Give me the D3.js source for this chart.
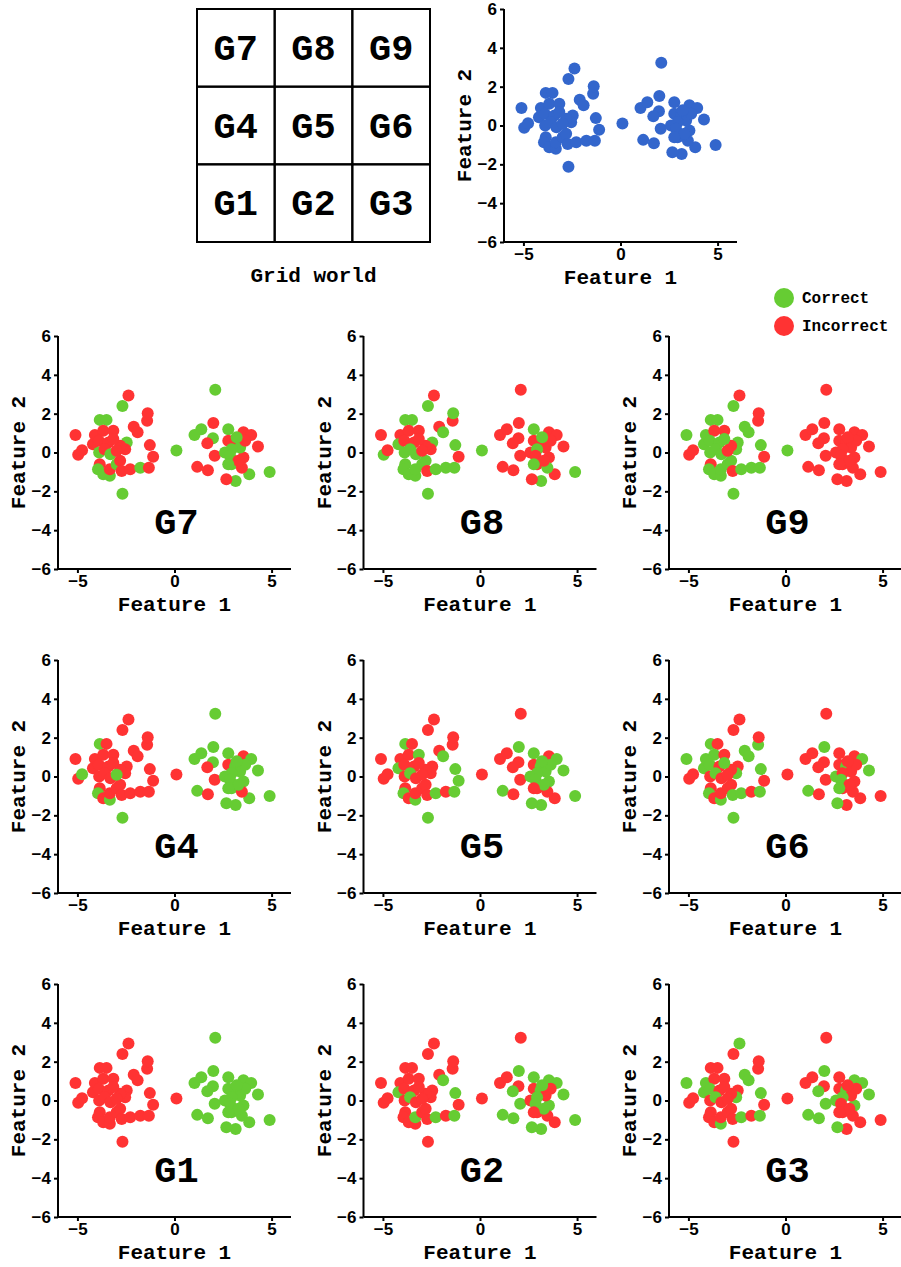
<!DOCTYPE html>
<html><head><meta charset="utf-8">
<script src="https://cdn.jsdelivr.net/npm/d3@7"></script>
<style>body{margin:0;background:#fff}svg{display:block}</style>
</head><body>
<script>
// ---- data ----
const feature1 = [-5.1,-4.96,-4.76,-4.1,-4.2,-3.85,-3.5,-3.67,-3.15,-3.9,
  -3.4,-3.88,-3.6,-3.3,-3.85,-3.94,-3.67,-3.33,-3.33,-2.98,
  -2.8,-2.72,-2.28,-1.76,-1.32,-1.1,-1.27,-1.41,-1.38,-2.37,
  -2.68,-2.1,-1.9,-2.46,-2.54,-2.8,-2.68,-3.15,-2.98,0.1,
  1.03,1.38,1.17,1.72,2.0,2.1,1.98,1.69,2.07,2.77,
  2.77,2.6,3.55,3.95,4.3,4.9,3.85,3.15,2.67,2.94,
  3.55,3.47,3.12,3.38,2.94,3.64,3.2,2.86,3.29,2.77];
const feature2 = [0.9,-0.12,0.12,0.9,0.43,1.68,1.68,1.12,1.12,0.6,
  0.52,0,0.17,-0.09,-0.6,-0.86,-1.12,-1.2,-0.86,-0.6,
  -0.43,-0.95,-0.86,-0.78,-0.78,-0.22,0.38,1.64,2.02,2.94,
  2.4,1.33,1.04,0.52,0.17,0.35,-2.12,0.7,0.09,0.1,
  0.9,1.2,-0.74,-0.92,1.52,3.23,0.73,0.47,-0.17,1.2,
  0.6,0,1.04,0.9,0.31,-1.0,-1.12,-1.47,-1.38,-0.6,
  -0.26,-0.78,0.52,0.26,0.17,0.6,0.78,-0.17,-0.43,-0.6];
// 1 = correct, 0 = incorrect, per goal
const correctG7 = [0,0,0,0,0,1,1,0,0,0, 0,1,0,1,0,1,1,1,0,1, 0,0,0,1,0,0,0,0,0,0, 1,0,0,1,0,0,1,0,0,1,
  1,1,0,0,0,1,1,0,0,1, 0,1,0,0,0,1,1,1,0,1, 0,0,0,1,1,0,1,1,0,1];
const correctG8 = [0,1,0,0,1,1,1,0,0,0, 0,1,1,1,1,1,1,1,1,1, 1,0,1,1,1,0,1,0,1,0, 1,0,1,1,0,0,1,0,0,1,
  0,0,0,0,0,0,0,0,0,1, 0,0,0,0,0,1,0,1,0,0, 0,1,0,0,1,0,1,0,0,1];
const correctG9 = [1,0,0,1,1,1,1,0,0,1, 1,1,1,1,0,1,1,1,1,1, 1,0,1,1,1,0,1,0,0,0, 1,1,1,1,1,0,1,1,0,1,
  0,0,0,0,0,0,0,0,0,0, 0,0,0,0,0,0,0,0,0,0, 0,0,0,0,0,0,0,0,0,0];
const correctG4 = [0,0,1,0,0,1,0,0,0,0, 0,0,0,0,0,1,0,1,0,0, 0,0,0,0,0,0,0,0,0,0, 0,0,0,0,0,0,1,0,1,0,
  1,1,1,0,1,1,1,0,0,1, 0,1,0,1,1,1,1,1,1,1, 1,0,1,1,1,1,1,1,1,1];
const correctG5 = [0,0,0,0,1,1,0,0,1,0, 0,0,1,0,0,1,0,1,0,0, 0,0,1,0,1,1,1,0,0,0, 0,0,1,0,0,0,1,0,0,0,
  0,0,1,0,1,0,0,0,0,1, 0,1,0,1,1,1,0,1,1,0, 1,0,1,1,1,1,1,1,1,0];
const correctG6 = [1,0,0,1,1,1,0,1,0,1, 0,0,1,0,0,1,0,1,0,0, 0,1,1,0,1,0,1,1,0,0, 0,1,1,0,1,0,1,1,0,0,
  0,0,1,0,1,0,0,0,0,0, 0,1,0,1,1,0,0,0,1,0, 0,0,1,0,0,0,0,1,0,1];
const correctG1 = [0,0,0,0,0,0,0,0,0,0, 0,0,0,0,0,0,0,0,0,0, 0,0,0,0,0,0,0,0,0,0, 0,0,0,0,0,0,0,0,0,0,
  1,1,1,1,1,1,1,1,1,1, 1,1,1,1,1,1,1,1,1,1, 1,1,1,1,1,1,1,1,1,1];
const correctG2 = [0,0,0,0,1,0,0,0,0,0, 0,0,1,0,0,0,0,0,1,0, 0,0,1,0,1,0,1,0,0,0, 0,0,1,0,0,0,0,0,0,0,
  0,0,1,1,1,0,0,1,1,1, 0,0,1,1,1,1,0,1,1,0, 1,0,1,0,1,0,1,1,1,0];
const correctG3 = [1,0,0,1,1,0,0,0,0,1, 0,0,1,0,0,0,0,1,0,0, 0,0,1,0,1,0,1,0,0,1, 0,1,1,0,1,0,0,0,0,0,
  0,0,1,1,1,0,0,1,1,0, 0,1,1,1,1,0,0,0,1,0, 1,0,1,0,1,0,0,0,0,0];
const gridLabels = [["G7","G8","G9"],["G4","G5","G6"],["G1","G2","G3"]];
const panelGoals = ["G7","G8","G9","G4","G5","G6","G1","G2","G3"];
const panelCorrect = {G7:correctG7,G8:correctG8,G9:correctG9,G4:correctG4,G5:correctG5,G6:correctG6,G1:correctG1,G2:correctG2,G3:correctG3};
const xTicks = [-5,0,5];
const yTicks = [-6,-4,-2,0,2,4,6];
const legendLabels = ["Correct","Incorrect"];

// ---- style ----
const BLUE = "#3366cc", GREEN = "#66cc33", RED = "#ff3333";
const MONO = "'Liberation Mono','DejaVu Sans Mono',monospace";
const SANS = "'Liberation Sans',Arial,sans-serif";
const S = 233, R = 6;

const svg = d3.select("body").append("svg").attr("width",901).attr("height",1267);

function scatter(left, top, colors, label) {
  const x = d3.scaleLinear().domain([-6,6]).range([left, left+S]);
  const y = d3.scaleLinear().domain([-6,6]).range([top+S, top]);
  const g = svg.append("g");
  const pts = feature1.map((v,i)=>({x:v,y:feature2[i],c:colors[i]}));
  g.selectAll("circle").data(pts).join("circle")
    .attr("cx",d=>x(d.x)).attr("cy",d=>y(d.y)).attr("r",R).attr("fill",d=>d.c);
  const ax = g.append("g").attr("transform",`translate(0,${top+S})`)
    .call(d3.axisBottom(x).tickValues(xTicks).tickSize(4).tickPadding(2).tickFormat(d=>d<0?"\u2212"+Math.abs(d):d));
  const ay = g.append("g").attr("transform",`translate(${left},0)`)
    .call(d3.axisLeft(y).tickValues(yTicks).tickSize(4).tickPadding(3).tickFormat(d=>d<0?"\u2212"+Math.abs(d):d));
  [ax,ay].forEach(a=>{
    a.select(".domain").attr("stroke","#000").attr("stroke-width",2).attr("d", a===ax?`M${left},0H${left+S}`:`M0,${top}V${top+S}`);
    a.selectAll(".tick line").attr("stroke","#000").attr("stroke-width",2);
    a.selectAll(".tick text").attr("fill","#000").attr("font-family",SANS).attr("font-weight","bold").attr("font-size",17);
  });
  g.append("text").attr("x",left+S/2).attr("y",top+S+42).attr("text-anchor","middle")
    .attr("font-family",MONO).attr("font-weight","bold").attr("font-size",21).text("Feature 1");
  g.append("text").attr("transform",`translate(${left-33},${top+S/2}) rotate(-90)`).attr("text-anchor","middle")
    .attr("font-family",MONO).attr("font-weight","bold").attr("font-size",21).text("Feature 2");
  if (label) {
    g.append("text").attr("x",x(0.1)).attr("y",top+198).attr("text-anchor","middle")
      .attr("font-family",MONO).attr("font-weight","bold").attr("font-size",37).text(label);
  }
}

// grid world
const gx = 197, gy = 9, cell = S/3;
const grid = svg.append("g");
gridLabels.forEach((row,r)=>row.forEach((lab,c)=>{
  grid.append("rect").attr("x",gx+c*cell).attr("y",gy+r*cell).attr("width",cell).attr("height",cell)
    .attr("fill","none").attr("stroke","#000").attr("stroke-width",2);
  grid.append("text").attr("x",gx+c*cell+cell/2).attr("y",gy+r*cell+cell/2+12).attr("text-anchor","middle")
    .attr("font-family",MONO).attr("font-weight","bold").attr("font-size",37).text(lab);
}));
grid.append("text").attr("x",gx+S/2).attr("y",282).attr("text-anchor","middle")
  .attr("font-family",MONO).attr("font-weight","bold").attr("font-size",21).text("Grid world");

// overview scatter
scatter(504, 9, feature1.map(()=>BLUE), null);

// legend
legendLabels.forEach((lab,i)=>{
  svg.append("circle").attr("cx",784).attr("cy",298+i*28).attr("r",10).attr("fill",i===0?GREEN:RED);
  svg.append("text").attr("x",802).attr("y",303+i*28).attr("font-family",MONO).attr("font-weight","bold")
    .attr("font-size",16).text(lab);
});

// panels
panelGoals.forEach((goal,k)=>{
  const c = k%3, r = Math.floor(k/3);
  const cols = panelCorrect[goal].map(v=>v?GREEN:RED);
  scatter(58+c*305.5, 336+r*324, cols, goal);
});
</script>
</body></html>
